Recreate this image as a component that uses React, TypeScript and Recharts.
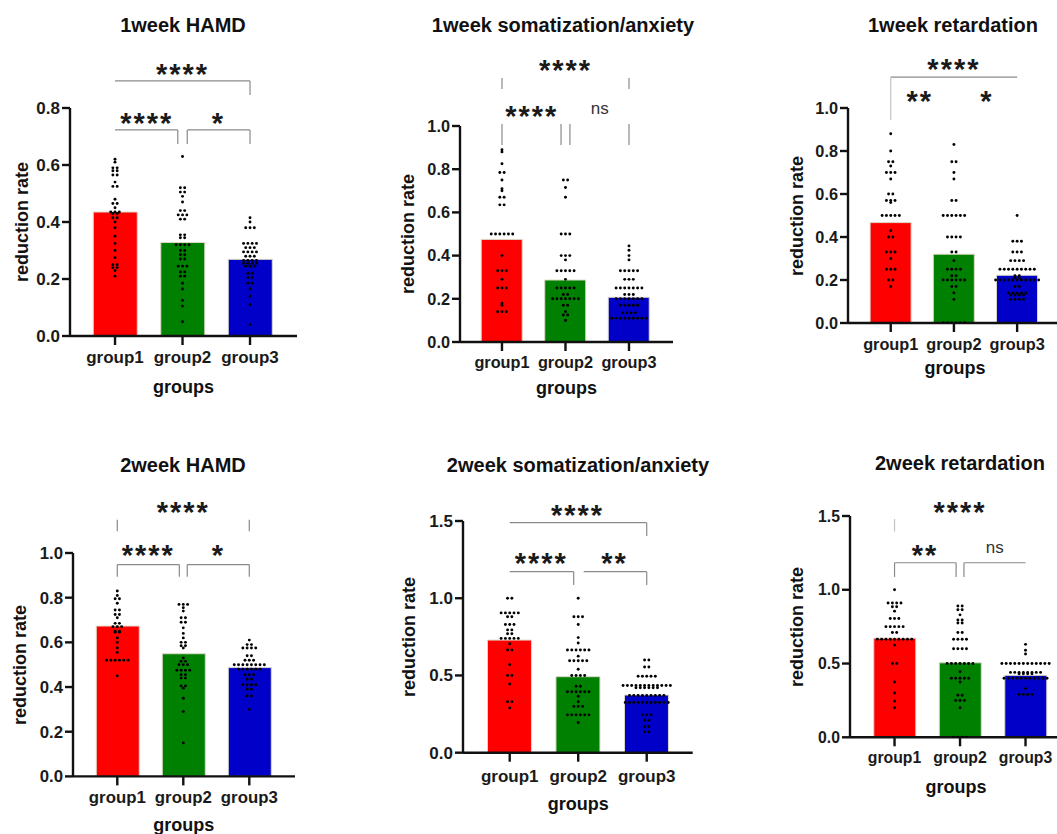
import React from 'react';
import { ComposedChart, Bar, Scatter, XAxis, YAxis, Cell, ReferenceLine, ReferenceDot } from 'recharts';

const FONT = "'Liberation Sans', Arial, Helvetica, sans-serif";
const groupNames = ['group1', 'group2', 'group3'];
const barColors = ['#ff0000', '#008000', '#0000c8'];

// ---------- 1 week HAMD ----------
const hamd1Means = [0.435, 0.328, 0.269];
const hamd1G1 = [0.62, 0.61, 0.59, 0.59, 0.58, 0.58, 0.565, 0.565, 0.54, 0.525, 0.525, 0.48, 0.465, 0.465, 0.45, 0.435, 0.435, 0.435, 0.43, 0.43, 0.415, 0.415, 0.4, 0.38, 0.35, 0.325, 0.3, 0.275, 0.25, 0.25, 0.24, 0.24, 0.23, 0.21];
const hamd1G2 = [0.63, 0.52, 0.52, 0.505, 0.505, 0.49, 0.47, 0.44, 0.44, 0.425, 0.425, 0.425, 0.41, 0.41, 0.355, 0.355, 0.345, 0.345, 0.32, 0.32, 0.32, 0.32, 0.3, 0.3, 0.285, 0.285, 0.27, 0.27, 0.245, 0.245, 0.245, 0.225, 0.225, 0.21, 0.21, 0.185, 0.165, 0.125, 0.105, 0.05];
const hamd1G3 = [0.415, 0.4, 0.38, 0.38, 0.38, 0.325, 0.325, 0.325, 0.325, 0.31, 0.31, 0.31, 0.295, 0.295, 0.295, 0.295, 0.28, 0.28, 0.28, 0.265, 0.265, 0.265, 0.265, 0.255, 0.255, 0.255, 0.255, 0.245, 0.245, 0.245, 0.22, 0.22, 0.205, 0.205, 0.185, 0.185, 0.165, 0.14, 0.11, 0.04];

// ---------- 1 week somatization/anxiety ----------
const soma1Means = [0.475, 0.287, 0.207];
const soma1G1 = [0.89, 0.88, 0.825, 0.785, 0.785, 0.75, 0.71, 0.7, 0.67, 0.67, 0.635, 0.635, 0.5, 0.5, 0.5, 0.5, 0.5, 0.5, 0.4, 0.33, 0.33, 0.33, 0.29, 0.25, 0.25, 0.25, 0.18, 0.17, 0.14, 0.14, 0.14];
const soma1G2 = [0.75, 0.75, 0.715, 0.67, 0.5, 0.5, 0.5, 0.4, 0.4, 0.4, 0.38, 0.33, 0.33, 0.33, 0.33, 0.33, 0.29, 0.25, 0.25, 0.25, 0.25, 0.25, 0.22, 0.22, 0.2, 0.2, 0.2, 0.2, 0.2, 0.2, 0.2, 0.17, 0.17, 0.14, 0.125, 0.125, 0.1];
const soma1G3 = [0.445, 0.425, 0.4, 0.38, 0.33, 0.33, 0.33, 0.33, 0.33, 0.29, 0.29, 0.29, 0.25, 0.25, 0.25, 0.25, 0.25, 0.25, 0.25, 0.22, 0.22, 0.22, 0.2, 0.2, 0.2, 0.2, 0.2, 0.2, 0.2, 0.17, 0.17, 0.17, 0.17, 0.17, 0.135, 0.135, 0.135, 0.135, 0.11, 0.11, 0.11, 0.11, 0.11, 0.11, 0.11, 0.11, 0.11];

// ---------- 1 week retardation ----------
const retard1Means = [0.467, 0.32, 0.222];
const retard1G1 = [0.88, 0.8, 0.75, 0.75, 0.73, 0.7, 0.7, 0.7, 0.67, 0.6, 0.6, 0.57, 0.57, 0.57, 0.56, 0.5, 0.5, 0.5, 0.5, 0.5, 0.43, 0.4, 0.4, 0.33, 0.33, 0.33, 0.3, 0.25, 0.25, 0.25, 0.2, 0.2, 0.17];
const retard1G2 = [0.83, 0.75, 0.75, 0.7, 0.67, 0.57, 0.57, 0.5, 0.5, 0.5, 0.5, 0.5, 0.5, 0.4, 0.4, 0.4, 0.4, 0.33, 0.33, 0.29, 0.25, 0.25, 0.25, 0.25, 0.22, 0.22, 0.2, 0.2, 0.2, 0.2, 0.2, 0.2, 0.17, 0.17, 0.14, 0.11, 0, 0, 0, 0, 0, 0];
const retard1G3 = [0.5, 0.38, 0.38, 0.38, 0.33, 0.33, 0.33, 0.29, 0.29, 0.29, 0.29, 0.25, 0.25, 0.25, 0.25, 0.25, 0.25, 0.25, 0.25, 0.25, 0.22, 0.22, 0.21, 0.21, 0.2, 0.2, 0.2, 0.2, 0.2, 0.2, 0.2, 0.2, 0.2, 0.2, 0.2, 0.17, 0.17, 0.14, 0.14, 0.14, 0.14, 0.14, 0.13, 0.13, 0.13, 0.13, 0.11, 0.11, 0.11, 0.11];

// ---------- 2 week HAMD ----------
const hamd2Means = [0.673, 0.549, 0.487];
const hamd2G1 = [0.83, 0.81, 0.795, 0.795, 0.775, 0.745, 0.745, 0.725, 0.725, 0.71, 0.685, 0.685, 0.67, 0.67, 0.67, 0.65, 0.65, 0.645, 0.645, 0.62, 0.6, 0.575, 0.555, 0.52, 0.52, 0.52, 0.52, 0.52, 0.52, 0.45];
const hamd2G2 = [0.77, 0.77, 0.77, 0.755, 0.74, 0.71, 0.71, 0.69, 0.69, 0.665, 0.64, 0.62, 0.6, 0.6, 0.585, 0.585, 0.575, 0.53, 0.515, 0.515, 0.5, 0.5, 0.5, 0.475, 0.475, 0.475, 0.475, 0.455, 0.455, 0.44, 0.44, 0.405, 0.405, 0.395, 0.35, 0.29, 0.15];
const hamd2G3 = [0.61, 0.59, 0.59, 0.575, 0.575, 0.575, 0.575, 0.54, 0.54, 0.52, 0.52, 0.52, 0.5, 0.5, 0.5, 0.5, 0.5, 0.5, 0.5, 0.5, 0.48, 0.48, 0.48, 0.48, 0.48, 0.48, 0.455, 0.455, 0.455, 0.435, 0.435, 0.41, 0.41, 0.41, 0.41, 0.39, 0.39, 0.36, 0.36, 0.3];

// ---------- 2 week somatization/anxiety ----------
const soma2Means = [0.729, 0.492, 0.373];
const soma2G1 = [1, 1, 0.905, 0.905, 0.905, 0.905, 0.905, 0.88, 0.88, 0.83, 0.83, 0.83, 0.795, 0.795, 0.77, 0.77, 0.74, 0.74, 0.74, 0.74, 0.74, 0.705, 0.665, 0.665, 0.57, 0.5, 0.5, 0.445, 0.33, 0.33, 0.29];
const soma2G2 = [1, 0.88, 0.88, 0.88, 0.83, 0.745, 0.71, 0.665, 0.665, 0.665, 0.665, 0.665, 0.665, 0.625, 0.595, 0.595, 0.595, 0.595, 0.595, 0.54, 0.5, 0.5, 0.5, 0.5, 0.43, 0.43, 0.395, 0.395, 0.395, 0.395, 0.395, 0.395, 0.365, 0.33, 0.3, 0.3, 0.3, 0.245, 0.245, 0.245, 0.245, 0.245, 0.245, 0.195];
const soma2G3 = [0.6, 0.6, 0.555, 0.555, 0.495, 0.495, 0.495, 0.495, 0.495, 0.435, 0.435, 0.435, 0.435, 0.435, 0.435, 0.435, 0.435, 0.435, 0.435, 0.435, 0.435, 0.42, 0.42, 0.42, 0.42, 0.42, 0.42, 0.37, 0.37, 0.37, 0.37, 0.37, 0.37, 0.37, 0.37, 0.37, 0.325, 0.325, 0.325, 0.325, 0.325, 0.325, 0.325, 0.325, 0.325, 0.325, 0.325, 0.245, 0.245, 0.245, 0.21, 0.21, 0.17, 0.17, 0.135, 0.135];

// ---------- 2 week retardation ----------
const retard2Means = [0.672, 0.505, 0.42];
const retard2G1 = [1, 0.91, 0.91, 0.91, 0.91, 0.885, 0.885, 0.855, 0.805, 0.805, 0.805, 0.75, 0.75, 0.75, 0.75, 0.75, 0.71, 0.71, 0.665, 0.665, 0.665, 0.665, 0.665, 0.665, 0.665, 0.665, 0.665, 0.625, 0.5, 0.5, 0.375, 0.3, 0.245, 0.2];
const retard2G2 = [0.89, 0.89, 0.865, 0.865, 0.83, 0.795, 0.795, 0.775, 0.775, 0.71, 0.71, 0.665, 0.665, 0.665, 0.665, 0.6, 0.6, 0.6, 0.6, 0.5, 0.5, 0.5, 0.5, 0.5, 0.5, 0.5, 0.445, 0.4, 0.4, 0.4, 0.4, 0.4, 0.375, 0.285, 0.285, 0.25, 0.25, 0.25, 0.2, 0, 0, 0, 0];
const retard2G3 = [0.63, 0.59, 0.565, 0.5, 0.5, 0.5, 0.5, 0.5, 0.5, 0.5, 0.5, 0.5, 0.5, 0.5, 0.5, 0.44, 0.44, 0.44, 0.44, 0.44, 0.44, 0.44, 0.44, 0.43, 0.43, 0.43, 0.43, 0.4, 0.4, 0.4, 0.4, 0.4, 0.4, 0.4, 0.4, 0.4, 0.4, 0.4, 0.33, 0.29, 0.29, 0.29, 0.29];

const ticks08 = [0, 0.2, 0.4, 0.6, 0.8];
const ticks10 = [0, 0.2, 0.4, 0.6, 0.8, 1.0];
const ticks15 = [0, 0.5, 1.0, 1.5];

type Seg = [number, number, number, number, boolean?];
type Mark = [string, number, number];

interface PanelDef {
  title: string;
  titleX: number;
  titleY: number;
  left: number;
  right: number;
  top: number;
  bottom: number;
  xDomain: [number, number];
  yMax: number;
  yTicks: number[];
  means: number[];
  values: number[][];
  barSize: number;
  fs: number;
  tickOff: number;
  groupsOff: number;
  yLabelOff: number;
  segs: Seg[];
  marks: Mark[];
}

const panels: PanelDef[] = [
  {
    title: '1week HAMD', titleX: 183, titleY: 25,
    left: 70, right: 297, top: 108, bottom: 336, xDomain: [0.333, 3.696],
    yMax: 0.8, yTicks: ticks08, means: hamd1Means, values: [hamd1G1, hamd1G2, hamd1G3],
    barSize: 44, fs: 17, tickOff: 27, groupsOff: 57.5, yLabelOff: -48,
    segs: [
      [1, 0.895, 3, 0.895], [3, 0.895, 3, 0.846],
      [1, 0.723, 1.93, 0.723], [1.93, 0.723, 1.93, 0.674],
      [2.07, 0.723, 3, 0.723], [2.07, 0.723, 2.07, 0.674], [3, 0.723, 3, 0.674],
    ],
    marks: [['****', 2, 0.944], ['****', 1.47, 0.772], ['*', 2.53, 0.772]],
  },
  {
    title: '1week somatization/anxiety', titleX: 563, titleY: 25,
    left: 460, right: 673, top: 126, bottom: 342, xDomain: [0.339, 3.693],
    yMax: 1.0, yTicks: ticks10, means: soma1Means, values: [soma1G1, soma1G2, soma1G3],
    barSize: 41, fs: 16.3, tickOff: 26, groupsOff: 52.5, yLabelOff: -52,
    segs: [
      [1, 1.222, 1, 1.171], [3, 1.222, 3, 1.171],
      [1, 1.009, 1, 0.912], [1.93, 1.009, 1.93, 0.912], [2.07, 1.009, 2.07, 0.912], [3, 1.009, 3, 0.912],
    ],
    marks: [['****', 2, 1.292], ['****', 1.47, 1.079], ['ns', 2.54, 1.079]],
  },
  {
    title: '1week retardation', titleX: 953, titleY: 25,
    left: 848, right: 1062, top: 108, bottom: 323, xDomain: [0.324, 3.71],
    yMax: 1.0, yTicks: ticks10, means: retard1Means, values: [retard1G1, retard1G2, retard1G3],
    barSize: 41, fs: 16.3, tickOff: 27, groupsOff: 51.5, yLabelOff: -51.3,
    segs: [[1, 1.144, 3, 1.144], [1, 1.144, 1, 0.944, true]],
    marks: [['****', 2, 1.214], ['**', 1.46, 1.065], ['*', 2.52, 1.065]],
  },
  {
    title: '2week HAMD', titleX: 183, titleY: 465,
    left: 72.7, right: 295, top: 553.3, bottom: 776.7, xDomain: [0.329, 3.697],
    yMax: 1.0, yTicks: ticks10, means: hamd2Means, values: [hamd2G1, hamd2G2, hamd2G3],
    barSize: 43, fs: 16.8, tickOff: 26.5, groupsOff: 54, yLabelOff: -52.7,
    segs: [
      [1, 1.149, 1, 1.097], [3, 1.149, 3, 1.097],
      [1, 0.948, 1.94, 0.948], [1, 0.948, 1, 0.894], [1.94, 0.948, 1.94, 0.894],
      [2.06, 0.948, 3, 0.948], [2.06, 0.948, 2.06, 0.894], [3, 0.948, 3, 0.894],
    ],
    marks: [['****', 2, 1.216], ['****', 1.47, 1.02], ['*', 2.53, 1.02]],
  },
  {
    title: '2week somatization/anxiety', titleX: 578, titleY: 465,
    left: 463.3, right: 693, top: 521, bottom: 752.7, xDomain: [0.318, 3.671],
    yMax: 1.5, yTicks: ticks15, means: soma2Means, values: [soma2G1, soma2G2, soma2G3],
    barSize: 44, fs: 17, tickOff: 29, groupsOff: 57, yLabelOff: -54.3,
    segs: [
      [1, 1.489, 3, 1.489], [3, 1.489, 3, 1.403],
      [1, 1.172, 1.934, 1.172], [1.934, 1.172, 1.934, 1.086],
      [2.08, 1.172, 3, 1.172], [3, 1.172, 3, 1.086],
    ],
    marks: [['****', 1.99, 1.584], ['****', 1.46, 1.269], ['**', 2.53, 1.269]],
  },
  {
    title: '2week retardation', titleX: 960, titleY: 463,
    left: 850, right: 1062, top: 516, bottom: 737.3, xDomain: [0.32, 3.557],
    yMax: 1.5, yTicks: ticks15, means: retard2Means, values: [retard2G1, retard2G2, retard2G3],
    barSize: 42, fs: 15.8, tickOff: 26, groupsOff: 56, yLabelOff: -53.3,
    segs: [
      [1, 1.48, 1, 1.394, true],
      [1, 1.183, 1.94, 1.183], [1, 1.183, 1, 1.087], [1.94, 1.183, 1.94, 1.087],
      [2.06, 1.183, 3, 1.183], [2.06, 1.183, 2.06, 1.087],
    ],
    marks: [['****', 2, 1.575], ['**', 1.465, 1.283], ['ns', 2.53, 1.283]],
  },
];

const DOT_GAP = 4.3;

// beeswarm-like layout: identical values are spread in a centred row
function swarm(values: number[], center: number, dx: number) {
  const counts = new Map<number, number>();
  values.forEach((v) => counts.set(v, (counts.get(v) || 0) + 1));
  const out: { x: number; y: number }[] = [];
  counts.forEach((n, v) => {
    for (let i = 0; i < n; i++) {
      out.push({ x: center + (i - (n - 1) / 2) * dx, y: v });
    }
  });
  return out;
}

const renderDot = (props: any) => (
  <circle cx={props.cx} cy={props.cy} r={1.45} fill="#000" />
);

function Panel({ p }: { p: PanelDef }) {
  const padTop = 120;
  const axisH = 75;
  const yW = 75;
  const plotW = p.right - p.left;
  const plotH = p.bottom - p.top;
  const pxPerUnit = plotW / (p.xDomain[1] - p.xDomain[0]);
  const dx = DOT_GAP / pxPerUnit;
  // hidden category axis for the bars, padded so band centres sit at 1, 2, 3 of the numeric axis
  const padL = (0.5 - p.xDomain[0]) * pxPerUnit;
  const padR = plotW - padL - 3 * pxPerUnit;
  const bars = p.means.map((m, i) => ({ name: groupNames[i], x: i + 1, y: m }));
  const dots = p.values.flatMap((vals, i) => swarm(vals, i + 1, dx));
  const tickStyle = { fill: '#1a1a1a', fontSize: p.fs, fontWeight: 700, fontFamily: FONT };
  const xTickMargin = p.tickOff - 9 - 0.71 * p.fs;
  const cx = (p.left + p.right) / 2;
  return (
    <>
      <div
        style={{
          position: 'absolute', left: p.titleX - 200, width: 400, top: p.titleY - 9.8,
          textAlign: 'center', fontFamily: FONT, fontWeight: 700, fontSize: 20, lineHeight: '20px', color: '#111',
          whiteSpace: 'nowrap',
        }}
      >
        {p.title}
      </div>
      <div style={{ position: 'absolute', left: p.left - yW, top: p.top - padTop }}>
        <ComposedChart
          width={plotW + yW}
          height={plotH + padTop + axisH}
          data={bars}
          margin={{ top: padTop, right: 0, bottom: 0, left: 0 }}
        >
          <XAxis
            xAxisId="cat"
            type="category"
            dataKey="name"
            hide
            padding={{ left: padL, right: padR }}
          />
          <XAxis
            type="number"
            dataKey="x"
            domain={p.xDomain}
            ticks={[1, 2, 3]}
            interval={0}
            allowDataOverflow
            tickFormatter={(v: number) => groupNames[Math.round(v) - 1]}
            height={axisH}
            tickSize={9}
            tickMargin={xTickMargin}
            axisLine={{ stroke: '#111', strokeWidth: 2.4 }}
            tickLine={{ stroke: '#111', strokeWidth: 2.4 }}
            tick={tickStyle}
          />
          <YAxis
            type="number"
            dataKey="y"
            domain={[0, p.yMax]}
            ticks={p.yTicks}
            interval={0}
            allowDataOverflow
            width={yW}
            tickSize={8}
            tickMargin={2}
            tickFormatter={(v: number) => v.toFixed(1)}
            axisLine={{ stroke: '#111', strokeWidth: 2.4 }}
            tickLine={{ stroke: '#111', strokeWidth: 2.4 }}
            tick={tickStyle}
          />
          <Bar xAxisId="cat" dataKey="y" barSize={p.barSize} isAnimationActive={false} stroke="#dcd9c6" strokeWidth={1}>
            {bars.map((b, i) => (
              <Cell key={i} fill={barColors[i]} />
            ))}
          </Bar>
          <Scatter data={dots} dataKey="y" isAnimationActive={false} shape={renderDot} />
          {p.segs.map((s, i) => (
            <ReferenceLine
              key={'s' + i}
              segment={[{ x: s[0], y: s[1] }, { x: s[2], y: s[3] }]}
              stroke={s[4] ? '#c4c4c4' : '#8a8a8a'}
              strokeWidth={1.2}
              ifOverflow="visible"
            />
          ))}
          {p.marks.map((m, i) => {
            const isNs = m[0] === 'ns';
            return (
              <ReferenceDot
                key={'m' + i}
                x={m[1]}
                y={m[2]}
                r={0}
                ifOverflow="visible"
                shape={(props: any) => (
                  <text
                    x={props.cx}
                    y={props.cy + (isNs ? 4.6 : 16.8)}
                    textAnchor="middle"
                    fontFamily={FONT}
                    fontSize={isNs ? 17 : 29}
                    fontWeight={isNs ? 400 : 700}
                    letterSpacing={isNs ? 0 : 2}
                    fill={isNs ? '#333' : '#1a1a1a'}
                  >
                    {m[0]}
                  </text>
                )}
              />
            );
          })}
        </ComposedChart>
      </div>
      <div
        style={{
          position: 'absolute', left: cx - 100, width: 200, top: p.bottom + p.groupsOff - 15.2,
          textAlign: 'center', fontFamily: FONT, fontWeight: 700, fontSize: 18, lineHeight: '18px', color: '#111',
        }}
      >
        groups
      </div>
      <div
        style={{
          position: 'absolute', left: p.left + p.yLabelOff - 100, width: 200,
          top: (p.top + p.bottom) / 2 - 9,
          textAlign: 'center', fontFamily: FONT, fontWeight: 700, fontSize: 18, lineHeight: '18px', color: '#111',
          transform: 'rotate(-90deg)', whiteSpace: 'nowrap',
        }}
      >
        reduction rate
      </div>
    </>
  );
}

export default function App() {
  return (
    <div
      style={{
        position: 'absolute', left: 0, top: 0, width: 1057, height: 834, overflow: 'hidden', background: '#fff',
      }}
    >
      {panels.map((p, i) => (
        <Panel key={i} p={p} />
      ))}
    </div>
  );
}
